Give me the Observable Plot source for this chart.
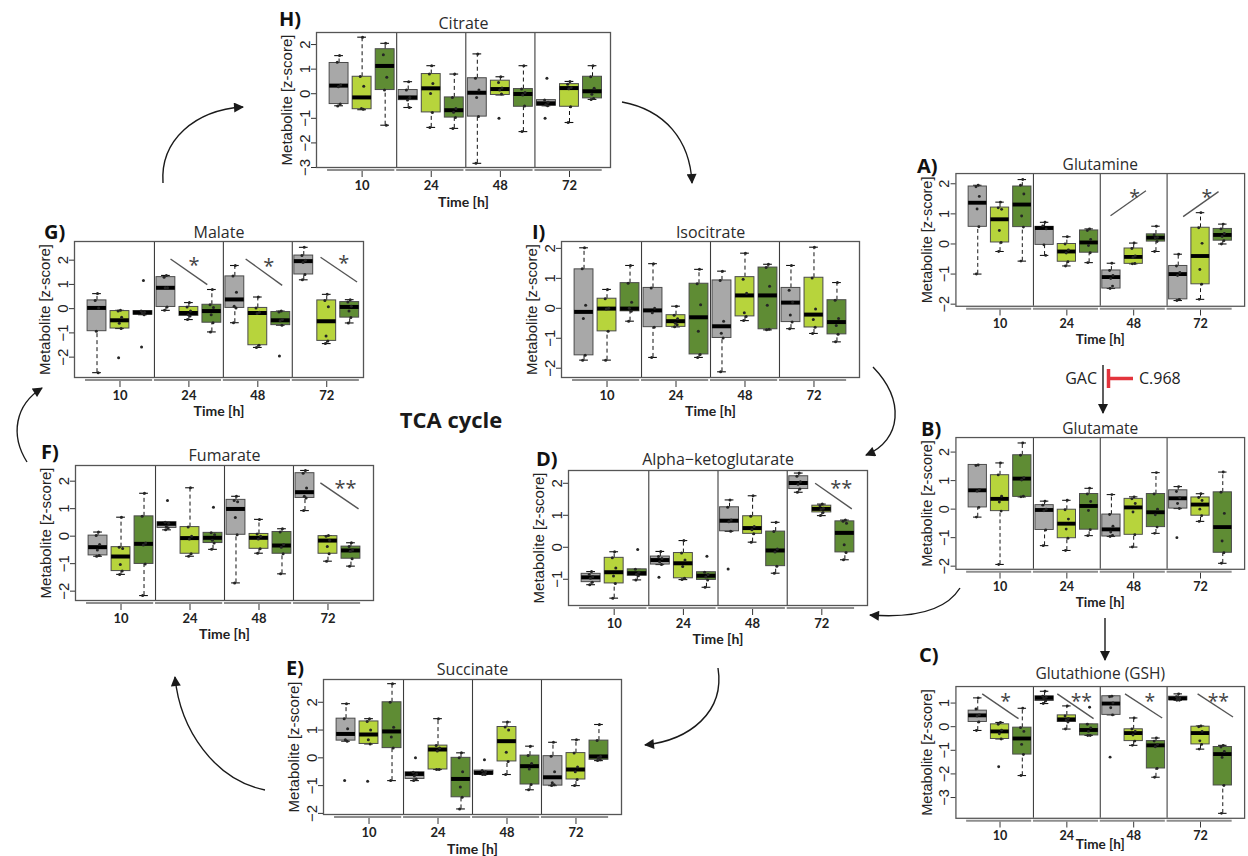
<!DOCTYPE html>
<html>
<head>
<meta charset="utf-8">
<script src="https://cdn.jsdelivr.net/npm/d3@7"></script>
<script src="https://cdn.jsdelivr.net/npm/@observablehq/plot@0.6"></script>
<style>
  html, body { margin: 0; padding: 0; background: #fff; }
  #root { position: relative; width: 1248px; height: 856px; overflow: hidden; font-family: "Open Sans", sans-serif; color: #222; }
  .panel { position: absolute; }
  .letter { position: absolute; font-family: "Open Sans", sans-serif; font-weight: bold; font-size: 20px; line-height: 24px; color: #111; }
</style>
</head>
<body>
<div id="root"></div>
<script>
// ---------------- data ----------------
const times = ["10", "24", "48", "72"];
const treatments = ["control", "treatment 1", "treatment 2"];
const fillColors = ["#a8a8a8", "#b7d43c", "#5f8c34"];

// box stats per box: [lower whisker, Q1, median, Q3, upper whisker]; order 10h (3 boxes), 24h, 48h, 72h
const citrateBoxes = [
  [-0.49, -0.42, 0.33, 1.25, 1.55], [-0.65, -0.63, -0.15, 0.69, 2.3], [-1.28, 0.15, 1.13, 1.81, 2.05],
  [-0.56, -0.26, -0.15, 0.15, 0.49], [-1.37, -0.76, 0.22, 0.8, 1.14], [-1.41, -0.97, -0.67, -0.15, 0.8],
  [-2.83, -0.93, 0.04, 0.63, 1.62], [-0.05, -0.05, 0.19, 0.53, 0.69], [-1.54, -0.53, -0.01, 0.19, 1.14],
  [-0.49, -0.49, -0.39, -0.26, -0.26], [-1.17, -0.53, 0.23, 0.39, 0.5], [-0.23, -0.19, 0.1, 0.69, 1.14]
];
const citratePoints = [
  [1.55, 1.28, 0.35, 0.28, -0.42, -0.5], [2.3, 0.7, 0.3, -0.6, -0.63], [2.05, 1.59, 0.67, 0.15, -1.28],
  [0.49, 0.15, -0.15, -0.26, -0.56], [1.14, 0.8, 0.42, 0.01, -0.76, -1.37], [0.8, -0.15, -0.6, -0.75, -0.97, -1.41],
  [1.62, 0.63, 0.15, -0.15, -0.93, -2.83], [0.69, 0.46, 0.23, 0.15, -0.01, -1.0], [1.14, 0.19, 0.05, -0.05, -0.5, -1.54],
  [0.63, -0.26, -0.35, -0.45, -0.49, -1.0], [0.5, 0.39, 0.25, 0.2, -0.53, -1.17], [1.14, 0.69, 0.22, -0.02, -0.19, -0.23]
];
const citrateSig = [];

const glutamineBoxes = [
  [-1.0, 0.57, 1.37, 1.91, 1.95], [-0.25, 0.05, 0.82, 1.21, 1.39], [-0.57, 0.56, 1.31, 1.91, 2.14],
  [-0.38, -0.03, 0.53, 0.57, 0.72], [-0.73, -0.59, -0.25, 0.0, 0.24], [-0.62, -0.29, 0.05, 0.45, 0.5],
  [-1.48, -1.48, -1.1, -0.88, -0.64], [-0.66, -0.66, -0.43, -0.15, 0.03], [-0.25, 0.08, 0.21, 0.32, 0.59],
  [-1.88, -1.84, -1.0, -0.73, -0.34], [-1.84, -1.34, -0.4, 0.54, 1.04], [0.0, 0.11, 0.3, 0.5, 0.66]
];
const glutaminePoints = [
  [1.95, 1.9, 1.58, 1.16, 0.57, -1.0], [1.39, 1.2, 1.15, 0.45, 0.05, -0.25], [2.14, 1.95, 1.66, 0.93, 0.56, -0.57],
  [0.72, 0.6, 0.5, -0.03, -0.38], [0.24, 0.0, -0.2, -0.3, -0.59, -0.73], [0.5, 0.45, 0.15, -0.05, -0.29, -0.62],
  [-0.64, -0.88, -1.05, -1.15, -1.4, -1.48], [0.03, -0.15, -0.4, -0.45, -0.65, -0.66], [0.59, 0.3, 0.22, 0.2, 0.08, -0.25],
  [-0.34, -0.73, -0.95, -1.05, -1.84, -1.88], [1.04, 0.54, 0.02, -0.85, -1.34, -1.84], [0.66, 0.5, 0.35, 0.25, 0.11, 0.0]
];
const glutamineSig = [
  {x1: 6.96, y1: 0.94, x2: 8.55, y2: 1.77, label: "*", lx: 8.04, ly: 1.66},
  {x1: 10.22, y1: 0.91, x2: 11.81, y2: 1.74, label: "*", lx: 11.28, ly: 1.66}
];

const isocitrateBoxes = [
  [-1.73, -1.57, -0.12, 1.3, 2.02], [-1.73, -0.77, -0.01, 0.32, 0.63], [-0.43, -0.1, -0.01, 0.84, 1.43],
  [-1.64, -0.63, -0.07, 0.68, 1.49], [-0.62, -0.62, -0.43, -0.23, 0.07], [-1.64, -1.54, -0.3, 0.82, 1.3],
  [-2.12, -0.99, -0.6, 0.93, 1.24], [-0.41, -0.27, 0.43, 1.04, 1.84], [-0.72, -0.7, 0.43, 1.36, 1.47],
  [-0.68, -0.46, 0.19, 0.68, 1.43], [-0.84, -0.64, -0.21, 1.02, 2.04], [-1.12, -0.87, -0.46, 0.27, 0.86]
];
const isocitratePoints = [
  [2.02, 1.32, 0.1, -0.34, -1.57, -1.73], [0.63, 0.32, 0.0, -0.02, -0.77, -1.73], [1.43, 0.84, 0.2, 0.0, -0.1, -0.43],
  [1.49, 0.68, 0.0, -0.15, -0.63, -1.64], [0.07, -0.23, -0.35, -0.5, -0.55, -0.62], [1.3, 0.82, 0.12, -0.77, -1.54, -1.64],
  [1.24, 0.93, -0.43, -0.83, -0.99, -2.12], [1.84, 0.97, 0.5, -0.15, -0.27, -0.41], [1.47, 1.36, 0.74, 0.1, -0.7, -0.72],
  [1.43, 0.6, 0.2, -0.22, -0.46, -0.68], [2.04, 1.01, -0.02, -0.37, -0.63, -0.84], [0.86, 0.27, -0.34, -0.57, -0.87, -1.12]
];
const isocitrateSig = [];

const malateBoxes = [
  [-2.64, -0.93, 0.03, 0.34, 0.62], [-0.82, -0.82, -0.48, -0.1, -0.07], [-0.25, -0.25, -0.16, -0.1, -0.1],
  [-0.07, 0.07, 0.86, 1.3, 1.37], [-0.45, -0.3, -0.18, 0.07, 0.25], [-0.96, -0.58, -0.1, 0.16, 0.79],
  [-0.58, 0.03, 0.38, 1.33, 1.78], [-1.6, -1.51, -0.18, 0.03, 0.48], [-0.68, -0.68, -0.48, -0.14, -0.1],
  [1.19, 1.41, 1.96, 2.19, 2.53], [-1.44, -1.33, -0.52, 0.34, 0.59], [-0.59, -0.37, 0.07, 0.27, 0.37]
];
const malatePoints = [
  [0.62, 0.34, 0.03, -0.93, -2.64], [-0.07, -0.1, -0.35, -0.6, -0.82, -2.03], [1.16, -0.1, -0.15, -0.18, -0.25, -1.58],
  [1.37, 1.3, 0.86, 0.86, 0.07, -0.07], [0.25, 0.07, -0.1, -0.25, -0.3, -0.45], [0.79, 0.16, 0.05, -0.25, -0.58, -0.96],
  [1.78, 1.35, 0.68, 0.1, 0.03, -0.58], [0.48, 0.03, -0.15, -0.2, -1.51, -1.6], [-0.1, -0.14, -0.45, -0.5, -0.68, -1.95],
  [2.53, 2.19, 2.0, 1.9, 1.41, 1.19], [0.59, 0.34, 0.08, -1.13, -1.33, -1.44], [0.37, 0.27, 0.1, -0.1, -0.37, -0.59]
];
const malateSig = [
  {x1: 4.2, y1: 2.05, x2: 5.8, y2: 0.99, label: "*", lx: 5.22, ly: 1.92},
  {x1: 7.47, y1: 2.05, x2: 9.06, y2: 0.96, label: "*", lx: 8.48, ly: 1.88},
  {x1: 10.73, y1: 2.12, x2: 12.32, y2: 1.1, label: "*", lx: 11.74, ly: 2.01}
];

const glutamateBoxes = [
  [-0.28, 0.06, 0.66, 1.55, 1.55], [-1.94, -0.07, 0.36, 1.19, 1.62], [0.43, 0.43, 1.07, 1.89, 2.32],
  [-1.28, -0.73, -0.03, 0.14, 0.28], [-1.45, -1.02, -0.51, -0.02, 0.31], [-0.93, -0.72, 0.11, 0.53, 0.73],
  [-0.96, -0.96, -0.71, -0.19, 0.51], [-1.33, -0.9, 0.06, 0.36, 0.43], [-0.85, -0.63, -0.11, 0.53, 1.28],
  [0.02, 0.02, 0.38, 0.66, 0.79], [-0.43, -0.23, 0.16, 0.41, 0.54], [-1.9, -1.53, -0.63, 0.59, 1.3]
];
const glutamatePoints = [
  [1.55, 1.53, 0.68, 0.63, 0.06, -0.28], [1.62, 1.2, 0.45, 0.25, -0.07, -1.94], [2.32, 1.89, 1.1, 1.02, 0.45, 0.43],
  [0.28, 0.14, 0.0, -0.06, -0.73, -1.28], [0.31, -0.02, -0.35, -0.7, -1.02, -1.45], [0.73, 0.53, 0.27, -0.05, -0.72, -0.93],
  [0.51, -0.19, -0.6, -0.8, -0.92, -0.96], [0.43, 0.36, 0.2, -0.1, -0.9, -1.33], [1.28, 0.53, 0.0, -0.2, -0.63, -0.85],
  [0.79, 0.62, 0.4, 0.2, 0.02, -1.0], [0.54, 0.41, 0.3, 0.0, -0.23, -0.43], [1.3, 0.59, -0.15, -1.12, -1.53, -1.9]
];
const glutamateSig = [];

const akgBoxes = [
  [-1.17, -1.09, -0.94, -0.83, -0.76], [-1.59, -1.13, -0.78, -0.33, -0.14], [-1.02, -0.89, -0.81, -0.69, -0.69],
  [-0.54, -0.54, -0.4, -0.29, -0.13], [-1.01, -0.97, -0.5, -0.18, 0.21], [-1.25, -1.02, -0.89, -0.78, -0.78],
  [0.5, 0.5, 0.83, 1.25, 1.48], [0.16, 0.42, 0.6, 0.97, 1.61], [-0.81, -0.59, -0.1, 0.49, 0.78],
  [1.72, 1.82, 2.01, 2.22, 2.32], [0.99, 1.09, 1.2, 1.3, 1.35], [-0.39, -0.16, 0.45, 0.81, 0.85]
];
const akgPoints = [
  [-0.76, -0.85, -0.92, -0.97, -1.09, -1.17], [-0.14, -0.33, -0.65, -0.9, -1.13, -1.59], [-0.07, -0.69, -0.78, -0.84, -0.89, -1.02],
  [-0.13, -0.29, -0.35, -0.45, -0.54, -0.94], [0.21, -0.18, -0.4, -0.6, -0.97, -1.01], [-0.28, -0.78, -0.85, -0.93, -1.02, -1.25],
  [1.48, 1.25, 0.85, 0.8, 0.5, -0.68], [1.61, 0.97, 0.65, 0.55, 0.42, 0.16], [0.78, 0.49, -0.05, -0.15, -0.59, -0.81],
  [2.32, 2.22, 2.05, 1.97, 1.82, 1.72], [1.35, 1.3, 1.22, 1.18, 1.09, 0.99], [0.85, 0.81, 0.75, 0.08, -0.16, -0.39]
];
const akgSig = [
  {x1: 10.71, y1: 2.0, x2: 12.3, y2: 1.2, label: "**", lx: 11.84, ly: 1.93}
];

const fumarateBoxes = [
  [-0.73, -0.7, -0.4, 0.02, 0.15], [-1.39, -1.27, -0.74, -0.4, 0.69], [-2.16, -1.01, -0.28, 0.72, 1.56],
  [0.23, 0.3, 0.45, 0.51, 0.51], [-0.73, -0.64, -0.07, 0.33, 1.76], [-0.48, -0.25, -0.06, 0.12, 0.12],
  [-1.7, 0.05, 0.99, 1.32, 1.45], [-0.62, -0.46, -0.06, 0.08, 0.61], [-1.37, -0.64, -0.34, 0.15, 0.27],
  [0.93, 1.39, 1.6, 2.29, 2.39], [-0.91, -0.64, -0.16, 0.0, 0.02], [-1.09, -0.82, -0.52, -0.38, -0.24]
];
const fumaratePoints = [
  [0.15, 0.02, -0.3, -0.5, -0.7, -0.73], [0.69, -0.4, -0.45, -1.03, -1.27, -1.39], [1.56, 0.72, -0.25, -0.32, -1.01, -2.16],
  [1.3, 0.51, 0.47, 0.35, 0.3, 0.23], [1.76, 0.33, 0.0, -0.1, -0.64, -0.73], [1.05, 0.12, 0.05, -0.15, -0.25, -0.48],
  [1.45, 1.3, 1.25, 0.68, 0.05, -1.7], [0.61, 0.08, 0.0, -0.1, -0.46, -0.62], [0.27, 0.15, -0.3, -0.4, -0.64, -1.37],
  [2.39, 2.29, 1.75, 1.45, 1.39, 0.93], [0.02, 0.0, -0.15, -0.38, -0.64, -0.91], [-0.24, -0.38, -0.5, -0.55, -0.82, -1.09]
];
const fumarateSig = [
  {x1: 10.67, y1: 1.94, x2: 12.33, y2: 0.99, label: "**", lx: 11.76, ly: 1.84}
];

const glutathioneBoxes = [
  [-0.16, 0.2, 0.48, 0.68, 1.22], [-0.52, -0.52, -0.2, 0.1, 0.18], [-2.07, -1.18, -0.5, -0.04, 0.78],
  [0.98, 1.09, 1.22, 1.29, 1.5], [-0.1, 0.2, 0.31, 0.48, 0.88], [-0.37, -0.37, -0.14, 0.1, 0.1],
  [0.5, 0.5, 0.98, 1.29, 1.29], [-0.79, -0.61, -0.27, -0.11, 0.37], [-2.14, -1.77, -0.79, -0.61, -0.48],
  [1.12, 1.12, 1.2, 1.27, 1.39], [-0.95, -0.75, -0.27, 0.0, 0.03], [-3.67, -2.49, -1.16, -0.86, -0.79]
];
const glutathionePoints = [
  [1.22, 0.75, 0.5, 0.45, 0.2, -0.16], [0.18, 0.1, -0.15, -0.3, -0.52, -1.7], [0.78, -0.04, -0.2, -0.75, -1.18, -2.07],
  [1.5, 1.29, 1.25, 1.2, 1.09, 0.98], [0.88, 0.45, 0.35, 0.28, 0.2, -0.1], [0.82, 0.1, -0.05, -0.2, -0.37, -0.37],
  [1.29, 1.27, 1.0, 0.8, 0.5, -1.29], [0.37, -0.1, -0.2, -0.35, -0.61, -0.79], [-0.48, -0.61, -0.75, -0.85, -1.77, -2.14],
  [1.39, 1.27, 1.22, 1.18, 1.12, 1.12], [0.03, 0.0, -0.2, -0.6, -0.75, -0.95], [-0.79, -0.86, -1.05, -1.3, -2.49, -3.67]
];
const glutathioneSig = [
  {x1: 1.2, y1: 1.39, x2: 2.83, y2: 0.34, label: "*", lx: 2.25, ly: 1.2},
  {x1: 4.57, y1: 1.39, x2: 6.2, y2: 0.34, label: "**", lx: 5.65, ly: 1.2},
  {x1: 7.61, y1: 1.39, x2: 9.28, y2: 0.37, label: "*", lx: 8.72, ly: 1.2},
  {x1: 10.87, y1: 1.39, x2: 12.46, y2: 0.41, label: "**", lx: 11.8, ly: 1.2}
];

const succinateBoxes = [
  [0.6, 0.62, 0.86, 1.41, 1.95], [0.5, 0.5, 0.84, 1.31, 1.41], [-0.82, 0.35, 0.95, 2.0, 2.67],
  [-0.82, -0.76, -0.58, -0.52, -0.52], [-0.42, -0.42, 0.3, 0.44, 1.41], [-1.84, -1.42, -0.76, 0.0, 0.18],
  [-0.6, -0.6, -0.54, -0.46, -0.46], [-0.6, -0.13, 0.6, 1.11, 1.29], [-1.15, -0.96, -0.3, 0.08, 0.42],
  [-1.0, -1.0, -0.7, 0.06, 0.56], [-1.0, -0.78, -0.42, 0.17, 0.65], [-0.1, -0.07, 0.05, 0.62, 1.2]
];
const succinatePoints = [
  [1.95, 1.41, 1.05, 0.65, 0.6, -0.82], [1.41, 1.31, 1.0, 0.65, 0.5, -0.84], [2.67, 2.0, 1.1, 0.75, 0.35, -0.82],
  [0.0, -0.52, -0.58, -0.65, -0.76, -0.82], [1.41, 0.44, 0.35, 0.25, -0.42, -0.42], [0.18, 0.0, -0.5, -1.05, -1.42, -1.84],
  [-0.07, -0.46, -0.5, -0.57, -0.6, -0.6], [1.29, 1.11, 1.0, 0.2, -0.13, -0.6], [0.42, 0.08, -0.2, -0.4, -0.96, -1.15],
  [0.56, 0.06, -0.5, -0.9, -0.97, -1.0], [0.65, 0.17, -0.33, -0.5, -0.78, -1.0], [1.2, 0.62, 0.05, 0.0, -0.07, -0.1]
];
const succinateSig = [];

// ---------------- layout (page positions of each panel's frame) ----------------
const panels = [
  {letter: "H)", title: "Citrate", boxes: citrateBoxes, points: citratePoints, sig: citrateSig,
   left: 316, top: 32, right: 610, bottom: 167, ymin: -3.0, ymax: 2.49, xmax: 12.78, yticks: [-3, -2, -1, 0, 1, 2], lx: 279, ly: 19, tdy: -9, xdy: 31},
  {letter: "A)", title: "Glutamine", boxes: glutamineBoxes, points: glutaminePoints, sig: glutamineSig,
   left: 957, top: 174, right: 1255, bottom: 311, ymin: -2.07, ymax: 2.34, xmax: 12.98, yticks: [-2, -1, 0, 1, 2], lx: 917, ly: 166, tdy: -9, xdy: 30},
  {letter: "I)", title: "Isocitrate", boxes: isocitrateBoxes, points: isocitratePoints, sig: isocitrateSig,
   left: 561, top: 241, right: 859, bottom: 377, ymin: -2.31, ymax: 2.23, xmax: 12.98, yticks: [-2, -1, 0, 1, 2], lx: 532, ly: 232, tdy: -9, xdy: 30},
  {letter: "G)", title: "Malate", boxes: malateBoxes, points: malatePoints, sig: malateSig,
   left: 74, top: 241, right: 363, bottom: 377, ymin: -2.84, ymax: 2.77, xmax: 12.6, yticks: [-2, -1, 0, 1, 2], lx: 44, ly: 232, tdy: -9, xdy: 30},
  {letter: "B)", title: "Glutamate", boxes: glutamateBoxes, points: glutamatePoints, sig: glutamateSig,
   left: 957, top: 438, right: 1255, bottom: 574, ymin: -2.11, ymax: 2.51, xmax: 12.98, yticks: [-2, -1, 0, 1, 2], lx: 921, ly: 429, tdy: -9, xdy: 30},
  {letter: "D)", title: "Alpha\u2212ketoglutarate", boxes: akgBoxes, points: akgPoints, sig: akgSig,
   left: 568, top: 470, right: 867, bottom: 605, ymin: -1.82, ymax: 2.4, xmax: 12.98, yticks: [-1, 0, 1, 2], lx: 536, ly: 459, tdy: -11, xdy: 30},
  {letter: "F)", title: "Fumarate", boxes: fumarateBoxes, points: fumaratePoints, sig: fumarateSig,
   left: 75, top: 465, right: 373, bottom: 600, ymin: -2.34, ymax: 2.57, xmax: 12.98, yticks: [-2, -1, 0, 1, 2], lx: 41, ly: 452, tdy: -10, xdy: 30},
  {letter: "C)", title: "Glutathione (GSH)", boxes: glutathioneBoxes, points: glutathionePoints, sig: glutathioneSig,
   left: 957, top: 687, right: 1255, bottom: 823, ymin: -3.88, ymax: 1.7, xmax: 12.98, yticks: [-3, -2, -1, 0, 1], lx: 919, ly: 655, tdy: -13, xdy: 23},
  {letter: "E)", title: "Succinate", boxes: succinateBoxes, points: succinatePoints, sig: succinateSig,
   left: 323, top: 679, right: 621, bottom: 814, ymin: -2.04, ymax: 2.82, xmax: 12.98, yticks: [-2, -1, 0, 1, 2], lx: 286, ly: 668, tdy: -10, xdy: 31}
];

const jitter = [0.02, -0.08, 0.07, -0.03, 0.05, -0.06];
const root = document.getElementById("root");

function drawPanel(cfg) {
  const mL = 50, mR = 4, mT = 30, mB = 50, inset = 4;
  const W = cfg.right - cfg.left, H = cfg.bottom - cfg.top;
  const boxes = cfg.boxes.map((b, i) => ({
    time: times[Math.floor(i / 3)], treatment: treatments[i % 3], p: i + 1,
    lo: b[0], q1: b[1], med: b[2], q3: b[3], hi: b[4]
  }));
  const pts = cfg.points.flatMap((arr, i) => arr.map((v, k) => ({p: i + 1, k, v})));
  const segs = times.map((t, g) => ({t, x1: 3 * g + 0.5, x2: 3 * g + 3.42}));
  const half = 0.41, cap = 0.19;
  const svg = Plot.plot({
    width: mL + W + mR,
    height: mT + H + inset + mB,
    marginLeft: mL, marginRight: mR, marginTop: mT, marginBottom: mB,
    style: {background: "transparent", overflow: "visible", fontFamily: "'Liberation Sans', Arial, sans-serif", color: "#222"},
    x: {domain: [0.02, cfg.xmax]},
    y: {domain: [cfg.ymin, cfg.ymax], insetBottom: inset},
    color: {domain: treatments, range: fillColors},
    marks: [
      Plot.ruleX([3.5, 6.5, 9.5], {y1: cfg.ymin, y2: cfg.ymax, stroke: "#3c3c3c", strokeWidth: 1.1}),
      Plot.ruleX(boxes, {x: "p", y1: "q3", y2: "hi", stroke: "#111", strokeDasharray: "4,3"}),
      Plot.ruleX(boxes, {x: "p", y1: "lo", y2: "q1", stroke: "#111", strokeDasharray: "4,3"}),
      Plot.ruleY(boxes, {y: "hi", x1: d => d.p - cap, x2: d => d.p + cap, stroke: "#111", strokeWidth: 1.1}),
      Plot.ruleY(boxes, {y: "lo", x1: d => d.p - cap, x2: d => d.p + cap, stroke: "#111", strokeWidth: 1.1}),
      Plot.rect(boxes, {x1: d => d.p - half, x2: d => d.p + half, y1: "q1", y2: "q3", fill: "treatment", stroke: "#4a4a4a", strokeWidth: 1}),
      Plot.ruleY(boxes, {y: "med", x1: d => d.p - half, x2: d => d.p + half, stroke: "#000", strokeWidth: 4}),
      Plot.dot(pts, {x: d => d.p + jitter[d.k % jitter.length], y: "v", r: 1.5, fill: "#252525", stroke: "none"}),
      Plot.frame({insetBottom: inset, stroke: "#555", strokeWidth: 1.3}),
      Plot.link(cfg.sig, {x1: "x1", y1: "y1", x2: "x2", y2: "y2", stroke: "#555", strokeWidth: 1.4}),
      Plot.text(cfg.sig, {x: "lx", y: "ly", text: "label", fontSize: 20, lineHeight: 0.6, fill: "#444", dy: 6, fontFamily: "'Open Sans', sans-serif"}),
      Plot.ruleY(segs, {x1: "x1", x2: "x2", y: () => cfg.ymin, dy: 2.5, stroke: "#8e8e8e", strokeWidth: 2}),
      Plot.axisX([2, 5, 8, 11], {tickFormat: d => times[Math.round((d - 2) / 3)], tickSize: 6, tickPadding: 3,
        fontSize: 13, fontWeight: "bold", fontFamily: "Lato, sans-serif", label: null, stroke: "#333"}),
      Plot.axisY(cfg.yticks, {tickSize: 5, tickPadding: 2, tickRotate: -90, fontSize: 15, label: null, stroke: "#333"}),
      Plot.text([cfg.title], {text: d => d, frameAnchor: "top", lineAnchor: "middle", textAnchor: "middle", dy: cfg.tdy,
        fontSize: 16, fontFamily: "'Open Sans', sans-serif", fill: "#2b2b2b"}),
      Plot.text(["Time [h]"], {text: d => d, frameAnchor: "bottom", lineAnchor: "middle", textAnchor: "middle", dy: cfg.xdy,
        fontSize: 14, fontWeight: "bold", fontFamily: "Lato, sans-serif", fill: "#222"}),
      Plot.text(["Metabolite [z-score]"], {text: d => d, frameAnchor: "left", lineAnchor: "middle", textAnchor: "middle",
        dx: -29, dy: -2, rotate: -90, fontSize: 15, fill: "#222"})
    ]
  });
  const div = document.createElement("div");
  div.className = "panel";
  div.style.left = (cfg.left - mL) + "px";
  div.style.top = (cfg.top - mT) + "px";
  div.appendChild(svg);
  root.appendChild(div);
  const lab = document.createElement("div");
  lab.className = "letter";
  lab.textContent = cfg.letter;
  lab.style.left = cfg.lx + "px";
  lab.style.top = (cfg.ly - 12) + "px";
  root.appendChild(lab);
}
panels.forEach(drawPanel);

// ---------------- pathway decorations ----------------
const arrows = [
  "M163,183 C160,140 195,110 243,107",
  "M622,102 C665,110 690,140 692,183",
  "M1103,365 L1103,413",
  "M873,367 C905,400 902,440 866,455",
  "M960,588 C945,612 910,618 870,615",
  "M1105,618 L1105,660",
  "M718,668 C725,712 690,740 645,745",
  "M265,790 C215,780 180,730 175,677",
  "M27,462 C10,435 15,405 42,388"
];
const over = d3.select("#root").append("svg")
  .attr("width", 1248).attr("height", 856)
  .style("position", "absolute").style("left", "0px").style("top", "0px")
  .style("pointer-events", "none");
over.append("defs").append("marker")
  .attr("id", "head").attr("viewBox", "0 0 10 10").attr("refX", 9).attr("refY", 5)
  .attr("markerUnits", "userSpaceOnUse").attr("markerWidth", 11).attr("markerHeight", 10)
  .attr("orient", "auto")
  .append("path").attr("d", "M0,0 L10,5 L0,10 z").attr("fill", "#1a1a1a");
over.selectAll("path.arrow").data(arrows).join("path")
  .attr("class", "arrow").attr("d", d => d)
  .attr("fill", "none").attr("stroke", "#1a1a1a").attr("stroke-width", 1.4)
  .attr("marker-end", "url(#head)");
// inhibitor (C.968 on GAC)
over.append("line").attr("x1", 1108.5).attr("x2", 1108.5).attr("y1", 369).attr("y2", 388)
  .attr("stroke", "#e3343c").attr("stroke-width", 3.5);
over.append("line").attr("x1", 1108.5).attr("x2", 1133).attr("y1", 378.5).attr("y2", 378.5)
  .attr("stroke", "#e3343c").attr("stroke-width", 3.5);
over.append("text").attr("x", 1097).attr("y", 384).attr("text-anchor", "end")
  .attr("font-family", "'Open Sans', sans-serif").attr("font-size", 16).attr("fill", "#222").text("GAC");
over.append("text").attr("x", 1139).attr("y", 384)
  .attr("font-family", "'Open Sans', sans-serif").attr("font-size", 16).attr("fill", "#222").text("C.968");
over.append("text").attr("x", 451).attr("y", 428).attr("text-anchor", "middle")
  .attr("font-family", "'Open Sans', sans-serif").attr("font-weight", "bold").attr("font-size", 22)
  .attr("fill", "#1a1a1a").text("TCA cycle");
</script>
</body>
</html>
